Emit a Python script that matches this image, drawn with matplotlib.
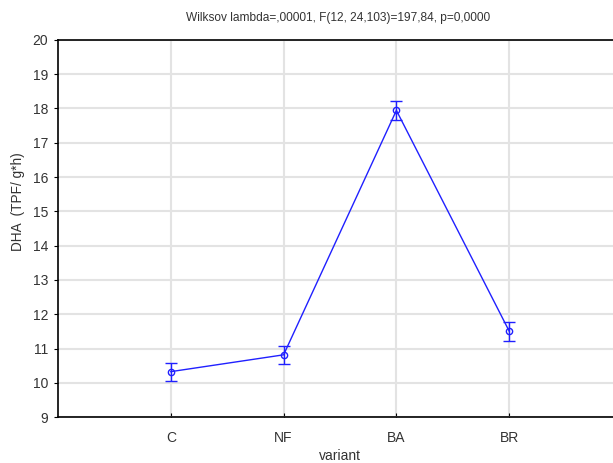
import matplotlib
matplotlib.use("Agg")
import matplotlib.pyplot as plt

categories = ["C", "NF", "BA", "BR"]
means = [10.33, 10.82, 17.94, 11.51]
errors = [0.26, 0.27, 0.27, 0.28]
yticks = [9, 10, 11, 12, 13, 14, 15, 16, 17, 18, 19, 20]

plt.rcParams['font.family'] = ['Liberation Sans', 'DejaVu Sans']

W, H = 613, 463
fig = plt.figure(figsize=(W / 100, H / 100), dpi=100)
left, right, top, bottom = 58, 622, 39.7, 417.3
ax = fig.add_axes([left / W, 1 - bottom / H, (right - left) / W, (bottom - top) / H])

x = list(range(1, len(categories) + 1))
ax.errorbar(x, means, yerr=errors, color='#2020ff', lw=1.0, marker='o', ms=4.5,
            mfc='none', mec='#2020ff', mew=1.0, capsize=4.5, capthick=1.0, elinewidth=1.0,
            zorder=3)

ax.set_xlim(0, 5)
ax.set_ylim(9, 20)
ax.set_xticks(x)
ax.set_xticklabels(categories)
ax.set_yticks(yticks)
ax.grid(True, color='#e3e3e3', lw=1.5, zorder=0)
ax.set_axisbelow(True)
for s in ['left', 'bottom', 'top']:
    ax.spines[s].set_color('black')
    ax.spines[s].set_linewidth(1.2)
ax.spines['right'].set_visible(False)
ax.tick_params(axis='y', direction='out', length=3, labelsize=10, pad=4, colors='black')
ax.tick_params(axis='x', direction='in', length=3, labelsize=10, pad=10, colors='black')
for lbl in ax.get_yticklabels() + ax.get_xticklabels():
    lbl.set_color('#333333')

fig.text(338 / W, 1 - 18 / H, "Wilksov lambda=,00001, F(12, 24,103)=197,84, p=0,0000",
         ha='center', va='center', fontsize=8.6, color='#333333')
fig.text(340 / W, 1 - 456 / H, "variant", ha='center', va='center', fontsize=10, color='#333333')
fig.text(18 / W, 1 - 202 / H, "DHA  (TPF/ g*h)", ha='center', va='center', rotation=90,
         fontsize=9.8, color='#333333')

fig.savefig("out.png", dpi=100)
